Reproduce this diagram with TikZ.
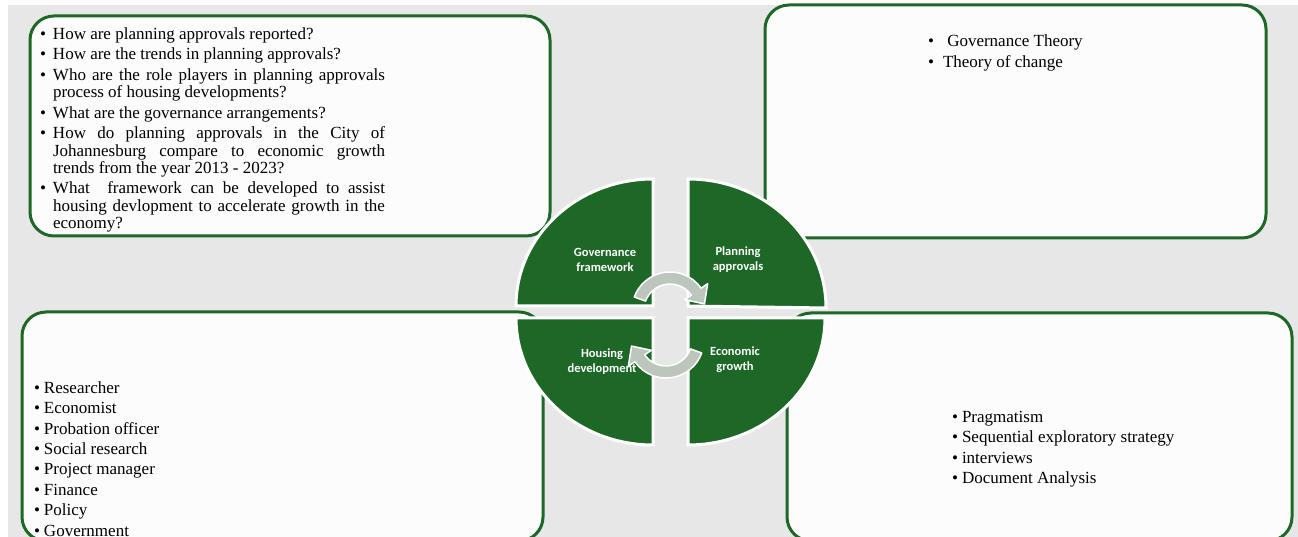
\documentclass[tikz,border=0pt]{standalone}
\usepackage{fontspec}
\setmainfont{Liberation Serif}
\newfontfamily\quadfont{Carlito}
\usepackage{tikz}
\usetikzlibrary{positioning}

\definecolor{leafgreen}{RGB}{29,104,38}
\definecolor{paper}{RGB}{231,231,231}
\definecolor{boxfill}{RGB}{252,252,252}
\definecolor{cyclegray}{RGB}{188,198,188}

% bullet line with hanging indent
\newcommand{\bitem}[1][10pt]{\par\noindent\hangindent=#1\hangafter=1\makebox[#1][l]{\textbullet}\ignorespaces}

\begin{document}
\begin{tikzpicture}[x=1pt,y=1pt,
    every node/.style={inner sep=0pt,outer sep=0pt},
    panel/.style={draw=leafgreen,line width=3pt,fill=boxfill,rounded corners=24pt},
    quarter/.style={fill=leafgreen,draw=white,line width=3pt},
    turn/.style={fill=cyclegray,draw=white,line width=1.5pt,line join=round},
    qlabel/.style={text=white,align=center,font=\quadfont\bfseries\fontsize{12.5}{15}\selectfont},
    list/.style={anchor=north west,align=left,font=\fontsize{17}{20.4}\selectfont}]
  \useasboundingbox (0,0) rectangle (1298,537);
  \fill[white] (0,0) rectangle (1298,537);
  \fill[paper] (8,0) rectangle (1298,532);

  \node[panel,minimum width=520pt,minimum height=220pt] (questions) at (290,411) {};
  \node[panel,minimum width=501pt,minimum height=233pt] (theories) at (1015.5,415.5) {};
  \node[panel,minimum width=521pt,minimum height=229pt] (roles) at (282.5,110.5) {};
  \node[panel,minimum width=505pt,minimum height=228pt] (methods) at (1039.5,110) {};

  \node[anchor=north west,text width=345pt,align=justify,font=\fontsize{17}{17.3}\selectfont,
    below right=3pt and 10pt of questions.north west] (questionlist) {%
    \setlength{\parskip}{3.2pt}%
    \bitem[13pt] How are planning approvals reported?
    \bitem[13pt] How are the trends in planning approvals?
    \bitem[13pt] Who are the role players in planning approvals\linebreak process of housing developments?
    \bitem[13pt] What are the governance arrangements?
    \bitem[13pt] How do planning approvals in the City of\linebreak Johannesburg compare to economic growth\linebreak trends from the year 2013 - 2023?
    \bitem[13pt] What\ \ framework can be developed to assist\linebreak housing devlopment to accelerate growth in the\linebreak economy?\par};

  \node[list,below right=30pt and 163pt of theories.north west] (theorylist) {%
    \makebox[15pt][l]{\textbullet}\ Governance Theory\\
    \makebox[15pt][l]{\textbullet}Theory of change};

  \node[list,below right=69.5pt and 12pt of roles.north west] (rolelist) {%
    \makebox[10pt][l]{\textbullet}Researcher\\
    \makebox[10pt][l]{\textbullet}Economist\\
    \makebox[10pt][l]{\textbullet}Probation officer\\
    \makebox[10pt][l]{\textbullet}Social research\\
    \makebox[10pt][l]{\textbullet}Project manager\\
    \makebox[10pt][l]{\textbullet}Finance\\
    \makebox[10pt][l]{\textbullet}Policy\\
    \makebox[10pt][l]{\textbullet}Government};

  \node[list,below right=98pt and 165pt of methods.north west] (methodlist) {%
    \makebox[10pt][l]{\textbullet}Pragmatism\\
    \makebox[10pt][l]{\textbullet}Sequential exploratory strategy\\
    \makebox[10pt][l]{\textbullet}interviews\\
    \makebox[10pt][l]{\textbullet}Document Analysis};

  % the four quarters of the cycle
  \filldraw[quarter] (653,231) -- (516,231) arc[start angle=180,end angle=90,x radius=137,y radius=127] -- cycle;
  \filldraw[quarter] (688,231) -- (688,358) arc[start angle=90,end angle=0,x radius=138,y radius=129] -- cycle;
  \filldraw[quarter] (653,219) -- (516,219) arc[start angle=180,end angle=270,x radius=137,y radius=127] -- cycle;
  \filldraw[quarter] (688,219) -- (825,219) arc[start angle=0,end angle=-90,x radius=137,y radius=127] -- cycle;

  \node[qlabel] (governance) at (605,277) {Governance\\framework};
  \node[qlabel] (planning) at (738,277) {Planning\\approvals};
  \node[qlabel] (housing) at (602,175) {Housing\\development};
  \node[qlabel] (economic) at (735,177) {Economic\\growth};

  % turning arrows
  \filldraw[turn,shift={(670,227)}] (160:38) arc[start angle=160,end angle=35,radius=38]
    -- (35:46) -- (10:35) -- (35:18) -- (35:26) arc[start angle=35,end angle=160,radius=26] -- cycle;
  \filldraw[turn,shift={(666,197)}] (-20:38) arc[start angle=-20,end angle=-145,radius=38]
    -- (-145:46) -- (-170:35) -- (-145:18) -- (-145:26) arc[start angle=-145,end angle=-20,radius=26] -- cycle;
\end{tikzpicture}
\end{document}
